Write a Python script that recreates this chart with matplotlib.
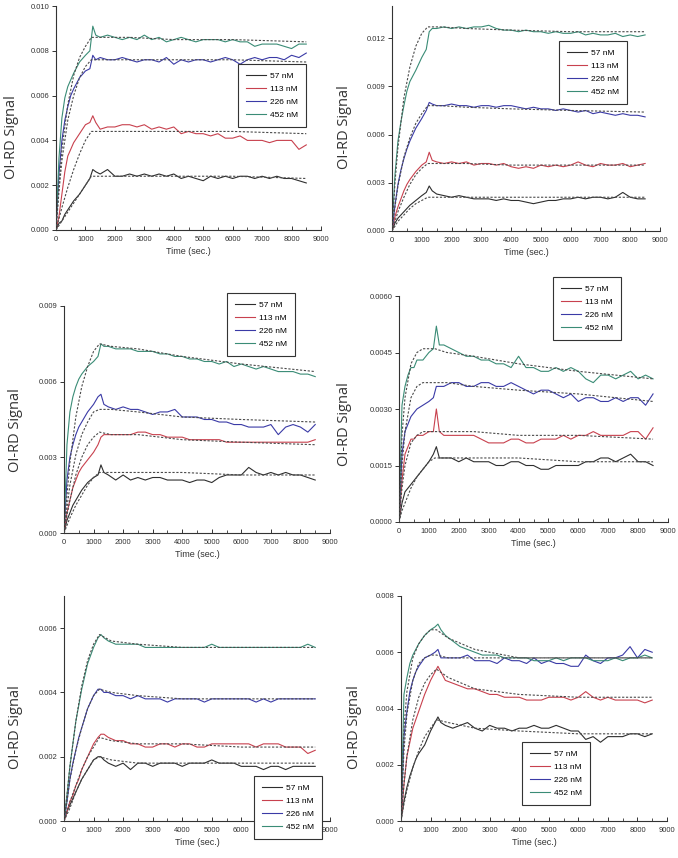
"""OI-RD binding curves, six panels, four concentrations each, with dotted fits."""
import matplotlib
matplotlib.use("Agg")
import matplotlib.pyplot as plt
from matplotlib.ticker import FixedLocator, FormatStrFormatter, MultipleLocator

LABELS = ["57 nM", "113 nM", "226 nM", "452 nM"]
COLORS = ["#2e2e2e", "#c8414e", "#3a3aa6", "#3a8c76"]
FIT_COLOR = "#4a4a4a"

# time axis (s) for the measured traces and for the fitted curves
T_DATA = [0, 100, 200, 300, 400, 500, 600, 800, 1000, 1150, 1250, 1350, 1500,
          1750, 2000, 2250, 2500, 2750, 3000, 3250, 3500, 3750, 4000, 4250,
          4500, 4750, 5000, 5250, 5500, 5750, 6000, 6250, 6500, 6750, 7000,
          7250, 7500, 7750, 8000, 8250, 8500]
T_FIT = [0, 100, 200, 400, 600, 800, 1000, 1200, 1600, 2500, 4000, 6000, 8500]

# all signal values below are in units of 1e-3
# panel 1 (top left)
P1_57 = [0, 0.3, 0.4, 0.7, 0.9, 1.1, 1.3, 1.6, 2.0, 2.3, 2.7, 2.6, 2.5, 2.7, 2.4, 2.4, 2.5, 2.4, 2.5, 2.4, 2.5,
         2.4, 2.5, 2.3, 2.4, 2.3, 2.2, 2.4, 2.3, 2.4, 2.3, 2.4, 2.4, 2.3, 2.4, 2.3, 2.4, 2.3, 2.3, 2.2, 2.1]
P1_113 = [0, 0.6, 1.6, 2.6, 3.3, 3.6, 3.9, 4.3, 4.7, 4.8, 5.1, 4.8, 4.5, 4.6, 4.6, 4.7, 4.7, 4.6, 4.7, 4.5, 4.6,
          4.5, 4.6, 4.3, 4.4, 4.3, 4.3, 4.2, 4.3, 4.1, 4.1, 4.2, 4.0, 4.0, 4.0, 3.9, 4.0, 4.0, 4.0, 3.6, 3.8]
P1_226 = [0, 2.5, 4.0, 4.9, 5.5, 6.0, 6.3, 6.8, 7.1, 7.2, 7.8, 7.6, 7.7, 7.6, 7.6, 7.7, 7.6, 7.5, 7.6, 7.6, 7.5,
          7.7, 7.4, 7.6, 7.5, 7.6, 7.6, 7.5, 7.6, 7.7, 7.6, 7.4, 7.6, 7.7, 7.6, 7.7, 7.7, 7.6, 7.8, 7.7, 7.9]
P1_452 = [0, 3.2, 5.0, 5.9, 6.4, 6.7, 7.0, 7.5, 7.8, 8.0, 9.1, 8.7, 8.6, 8.7, 8.6, 8.5, 8.6, 8.5, 8.7, 8.5, 8.6,
          8.4, 8.5, 8.6, 8.5, 8.4, 8.5, 8.5, 8.5, 8.4, 8.5, 8.4, 8.4, 8.2, 8.3, 8.3, 8.3, 8.2, 8.1, 8.3, 8.3]
P1_FIT = [
    [0, 0.2, 0.4, 0.8, 1.2, 1.6, 2.0, 2.4, 2.4, 2.4, 2.4, 2.4, 2.3],
    [0, 0.5, 1.0, 1.9, 2.7, 3.4, 4.0, 4.4, 4.4, 4.4, 4.4, 4.4, 4.3],
    [0, 1.7, 3.1, 4.9, 6.0, 6.8, 7.3, 7.6, 7.6, 7.6, 7.6, 7.6, 7.5],
    [0, 2.0, 3.6, 5.6, 6.9, 7.7, 8.2, 8.6, 8.6, 8.6, 8.5, 8.5, 8.4],
]

# panel 2 (top right)
P2_57 = [0, 0.5, 0.8, 1.0, 1.2, 1.4, 1.6, 1.9, 2.2, 2.4, 2.8, 2.5, 2.3, 2.2, 2.1, 2.2, 2.1, 2.0, 2.0, 2.0, 1.9,
         2.0, 1.9, 1.9, 1.8, 1.7, 1.8, 1.9, 1.9, 2.0, 2.0, 2.1, 2.0, 2.1, 2.1, 2.0, 2.1, 2.4, 2.1, 2.0, 2.0]
P2_113 = [0, 0.9, 1.5, 2.0, 2.5, 2.9, 3.2, 3.7, 4.1, 4.3, 4.9, 4.4, 4.3, 4.2, 4.3, 4.2, 4.3, 4.1, 4.2, 4.2, 4.1,
          4.2, 4.0, 3.9, 4.0, 3.9, 4.1, 4.0, 4.1, 4.0, 4.1, 4.3, 4.1, 4.0, 4.2, 4.1, 4.1, 4.2, 4.0, 4.1, 4.2]
P2_226 = [0, 1.6, 2.9, 3.8, 4.5, 5.1, 5.6, 6.4, 7.0, 7.5, 8.0, 7.9, 7.8, 7.8, 7.9, 7.8, 7.8, 7.7, 7.8, 7.8, 7.7,
          7.8, 7.8, 7.7, 7.6, 7.7, 7.6, 7.6, 7.5, 7.6, 7.5, 7.4, 7.5, 7.3, 7.4, 7.3, 7.2, 7.3, 7.2, 7.2, 7.1]
P2_452 = [0, 3.5, 5.6, 6.8, 7.8, 8.7, 9.3, 10.0, 10.8, 11.3, 12.4, 12.6, 12.6, 12.7, 12.6, 12.7, 12.6, 12.7,
          12.7, 12.8, 12.6, 12.5, 12.5, 12.4, 12.5, 12.4, 12.4, 12.3, 12.4, 12.3, 12.3, 12.4, 12.2, 12.3, 12.2,
          12.2, 12.3, 12.1, 12.2, 12.1, 12.2]
P2_FIT = [
    [0, 0.3, 0.6, 1.0, 1.4, 1.7, 1.9, 2.1, 2.1, 2.1, 2.1, 2.1, 2.1],
    [0, 0.6, 1.2, 2.1, 2.9, 3.5, 3.9, 4.2, 4.2, 4.2, 4.1, 4.1, 4.1],
    [0, 1.5, 2.8, 4.6, 5.8, 6.7, 7.3, 7.8, 7.8, 7.7, 7.6, 7.5, 7.4],
    [0, 3.0, 5.2, 8.3, 10.2, 11.5, 12.3, 12.7, 12.7, 12.6, 12.5, 12.4, 12.4],
]

# panel 3 (middle left)
P3_57 = [0, 0.5, 0.8, 1.1, 1.3, 1.5, 1.7, 2.0, 2.2, 2.3, 2.7, 2.4, 2.3, 2.1, 2.3, 2.1, 2.2, 2.1, 2.2, 2.2, 2.1,
         2.1, 2.1, 2.0, 2.1, 2.1, 2.0, 2.2, 2.3, 2.3, 2.3, 2.6, 2.4, 2.3, 2.4, 2.3, 2.4, 2.3, 2.3, 2.2, 2.1]
P3_113 = [0, 0.8, 1.3, 1.8, 2.1, 2.4, 2.6, 2.9, 3.2, 3.5, 3.8, 3.9, 3.9, 3.9, 3.9, 3.9, 4.0, 4.0, 3.9, 3.9, 3.8,
          3.8, 3.8, 3.7, 3.7, 3.7, 3.7, 3.7, 3.6, 3.6, 3.6, 3.6, 3.6, 3.6, 3.6, 3.6, 3.6, 3.6, 3.6, 3.6, 3.7]
P3_226 = [0, 2.1, 3.0, 3.5, 3.9, 4.2, 4.4, 4.8, 5.1, 5.4, 5.5, 5.1, 5.0, 4.9, 5.0, 4.9, 4.9, 4.8, 4.7, 4.8, 4.8,
          4.9, 4.6, 4.6, 4.6, 4.5, 4.5, 4.4, 4.4, 4.3, 4.3, 4.2, 4.2, 4.2, 4.3, 3.9, 4.2, 4.3, 4.2, 4.0, 4.3]
P3_452 = [0, 3.5, 4.8, 5.4, 5.8, 6.1, 6.3, 6.6, 6.8, 7.0, 7.5, 7.4, 7.4, 7.3, 7.3, 7.3, 7.2, 7.2, 7.2, 7.1, 7.1,
          7.0, 7.0, 6.9, 6.9, 6.8, 6.8, 6.7, 6.8, 6.6, 6.7, 6.6, 6.5, 6.6, 6.5, 6.4, 6.4, 6.4, 6.3, 6.3, 6.2]
P3_FIT = [
    [0, 0.3, 0.6, 1.1, 1.5, 1.9, 2.2, 2.4, 2.4, 2.4, 2.4, 2.3, 2.3],
    [0, 0.7, 1.3, 2.3, 3.0, 3.5, 3.8, 4.0, 3.9, 3.9, 3.7, 3.6, 3.5],
    [0, 1.0, 1.9, 3.1, 3.9, 4.4, 4.8, 4.9, 4.9, 4.8, 4.6, 4.5, 4.4],
    [0, 1.5, 2.8, 4.6, 5.8, 6.6, 7.2, 7.5, 7.4, 7.3, 7.0, 6.7, 6.4],
]

# panel 4 (middle right)
P4_57 = [0, 0.5, 0.8, 0.9, 1.0, 1.1, 1.2, 1.4, 1.6, 1.8, 2.0, 1.7, 1.7, 1.7, 1.6, 1.7, 1.6, 1.6, 1.6, 1.5, 1.5,
         1.6, 1.6, 1.5, 1.5, 1.4, 1.4, 1.5, 1.5, 1.5, 1.5, 1.6, 1.6, 1.7, 1.7, 1.6, 1.7, 1.8, 1.6, 1.6, 1.5]
P4_113 = [0, 1.1, 1.8, 2.0, 2.2, 2.2, 2.3, 2.3, 2.4, 2.4, 3.0, 2.4, 2.3, 2.3, 2.3, 2.3, 2.3, 2.2, 2.1, 2.1, 2.1,
          2.2, 2.2, 2.1, 2.1, 2.2, 2.2, 2.2, 2.3, 2.2, 2.3, 2.3, 2.4, 2.3, 2.3, 2.3, 2.3, 2.4, 2.4, 2.2, 2.5]
P4_226 = [0, 1.8, 2.4, 2.6, 2.8, 2.9, 3.0, 3.1, 3.2, 3.3, 3.6, 3.6, 3.6, 3.7, 3.7, 3.6, 3.6, 3.7, 3.7, 3.6, 3.6,
          3.7, 3.6, 3.5, 3.4, 3.5, 3.5, 3.4, 3.3, 3.4, 3.2, 3.3, 3.3, 3.2, 3.2, 3.3, 3.2, 3.3, 3.3, 3.1, 3.4]
P4_452 = [0, 3.1, 3.6, 3.9, 4.1, 4.1, 4.3, 4.3, 4.5, 4.6, 5.2, 4.7, 4.7, 4.6, 4.5, 4.4, 4.4, 4.3, 4.3, 4.2, 4.2,
          4.1, 4.4, 4.1, 4.1, 4.0, 4.0, 4.1, 4.0, 4.1, 4.0, 3.8, 3.7, 3.9, 3.9, 3.8, 3.9, 4.0, 3.8, 3.9, 3.8]
P4_FIT = [
    [0, 0.3, 0.5, 0.9, 1.2, 1.4, 1.6, 1.7, 1.7, 1.7, 1.7, 1.6, 1.6],
    [0, 0.9, 1.5, 2.1, 2.3, 2.4, 2.4, 2.4, 2.4, 2.4, 2.3, 2.3, 2.2],
    [0, 1.5, 2.4, 3.3, 3.6, 3.7, 3.7, 3.7, 3.7, 3.6, 3.5, 3.4, 3.2],
    [0, 2.3, 3.3, 4.2, 4.5, 4.6, 4.6, 4.6, 4.5, 4.4, 4.2, 4.0, 3.8],
]

# panel 5 (bottom left)
P5_57 = [0, 0.3, 0.5, 0.7, 0.9, 1.1, 1.3, 1.6, 1.9, 2.0, 2.0, 1.9, 1.8, 1.7, 1.8, 1.6, 1.8, 1.8, 1.7, 1.8, 1.8,
         1.8, 1.7, 1.8, 1.8, 1.8, 1.9, 1.8, 1.8, 1.8, 1.7, 1.7, 1.7, 1.6, 1.7, 1.7, 1.6, 1.7, 1.7, 1.7, 1.7]
P5_113 = [0, 0.3, 0.6, 0.8, 1.1, 1.3, 1.6, 2.0, 2.4, 2.6, 2.7, 2.7, 2.6, 2.5, 2.5, 2.4, 2.4, 2.3, 2.3, 2.4, 2.4,
          2.3, 2.4, 2.4, 2.3, 2.3, 2.4, 2.4, 2.4, 2.4, 2.4, 2.4, 2.3, 2.4, 2.4, 2.4, 2.3, 2.3, 2.3, 2.1, 2.2]
P5_226 = [0, 0.6, 1.3, 1.8, 2.2, 2.6, 2.9, 3.5, 3.9, 4.1, 4.1, 4.0, 4.0, 3.9, 3.9, 3.8, 3.9, 3.8, 3.8, 3.8, 3.7,
          3.8, 3.8, 3.8, 3.8, 3.7, 3.8, 3.8, 3.8, 3.8, 3.8, 3.8, 3.7, 3.8, 3.7, 3.8, 3.8, 3.8, 3.8, 3.8, 3.8]
P5_452 = [0, 0.8, 1.7, 2.4, 3.1, 3.6, 4.1, 4.9, 5.4, 5.7, 5.8, 5.7, 5.6, 5.5, 5.5, 5.5, 5.5, 5.4, 5.4, 5.4, 5.4,
          5.4, 5.4, 5.4, 5.4, 5.4, 5.5, 5.4, 5.4, 5.4, 5.4, 5.4, 5.4, 5.4, 5.4, 5.4, 5.4, 5.4, 5.4, 5.5, 5.4]
P5_FIT = [
    [0, 0.2, 0.4, 0.9, 1.3, 1.6, 1.9, 2.0, 1.9, 1.8, 1.8, 1.8, 1.8],
    [0, 0.3, 0.6, 1.1, 1.6, 2.0, 2.3, 2.6, 2.5, 2.4, 2.4, 2.3, 2.3],
    [0, 0.6, 1.3, 2.2, 2.9, 3.5, 3.9, 4.1, 4.0, 3.9, 3.8, 3.8, 3.8],
    [0, 0.8, 1.7, 3.1, 4.2, 5.0, 5.5, 5.8, 5.6, 5.5, 5.4, 5.4, 5.4],
]

# panel 6 (bottom right)
P6_57 = [0, 0.7, 1.2, 1.6, 1.9, 2.2, 2.4, 2.7, 3.2, 3.5, 3.7, 3.5, 3.4, 3.3, 3.4, 3.5, 3.3, 3.2, 3.4, 3.3, 3.3,
         3.2, 3.3, 3.3, 3.4, 3.3, 3.3, 3.4, 3.3, 3.2, 3.2, 2.9, 3.0, 2.8, 3.0, 3.0, 3.0, 3.1, 3.1, 3.0, 3.1]
P6_113 = [0, 1.3, 2.3, 2.8, 3.3, 3.6, 3.9, 4.5, 5.0, 5.3, 5.5, 5.3, 5.0, 4.9, 4.8, 4.7, 4.7, 4.6, 4.5, 4.5, 4.4,
          4.4, 4.4, 4.3, 4.3, 4.3, 4.4, 4.4, 4.4, 4.3, 4.4, 4.6, 4.4, 4.3, 4.4, 4.3, 4.3, 4.3, 4.3, 4.2, 4.3]
P6_226 = [0, 3.0, 3.9, 4.6, 5.0, 5.3, 5.5, 5.8, 5.9, 6.0, 6.1, 5.8, 5.8, 5.8, 5.8, 5.9, 5.7, 5.7, 5.7, 5.6, 5.8,
          5.7, 5.7, 5.6, 5.8, 5.6, 5.7, 5.6, 5.6, 5.5, 5.5, 5.9, 5.7, 5.6, 5.8, 5.8, 5.9, 6.2, 5.8, 6.1, 6.0]
P6_452 = [0, 4.5, 5.1, 5.6, 5.9, 6.1, 6.3, 6.6, 6.8, 6.9, 7.0, 6.8, 6.6, 6.4, 6.2, 6.1, 6.0, 5.9, 5.9, 5.9, 5.8,
          5.8, 5.8, 5.8, 5.7, 5.7, 5.7, 5.8, 5.7, 5.8, 5.8, 5.8, 5.7, 5.7, 5.7, 5.8, 5.7, 5.8, 5.8, 5.9, 5.8]
P6_FIT = [
    [0, 0.6, 1.1, 1.9, 2.5, 3.0, 3.3, 3.6, 3.5, 3.3, 3.2, 3.1, 3.1],
    [0, 1.3, 2.3, 3.6, 4.4, 4.9, 5.2, 5.4, 5.1, 4.7, 4.5, 4.4, 4.4],
    [0, 2.5, 3.8, 5.0, 5.6, 5.8, 5.9, 5.9, 5.8, 5.8, 5.8, 5.8, 5.8],
    [0, 3.3, 4.6, 5.8, 6.3, 6.6, 6.8, 6.8, 6.5, 6.1, 5.8, 5.8, 5.8],
]

# y-axis setup per panel: top of axis, tick step, tick label format
Y_TOP = [0.010, 0.014, 0.009, 0.006, 0.007, 0.008]
Y_STEP = [0.002, 0.003, 0.003, 0.0015, 0.002, 0.002]
Y_FMT = ["%.3f", "%.3f", "%.3f", "%.4f", "%.3f", "%.3f"]

PANELS = [
    ([P1_57, P1_113, P1_226, P1_452], P1_FIT),
    ([P2_57, P2_113, P2_226, P2_452], P2_FIT),
    ([P3_57, P3_113, P3_226, P3_452], P3_FIT),
    ([P4_57, P4_113, P4_226, P4_452], P4_FIT),
    ([P5_57, P5_113, P5_226, P5_452], P5_FIT),
    ([P6_57, P6_113, P6_226, P6_452], P6_FIT),
]

W, H = 678, 858
# axes boxes in pixels: left, top, right, bottom
BOXES = [(56, 6, 321, 230), (392, 6, 660, 231), (64, 306, 330, 533),
         (399, 296, 668, 522), (64, 596, 330, 821), (401, 596, 667, 821)]
# legend top-left corners and y-label centres in pixels
LEG_POS = [(238, 64), (559, 41), (227, 293), (553, 277), (254, 776), (522, 742)]
YLAB_POS = [(12, 137), (344, 127), (16, 430), (344, 424), (16, 727), (355, 727)]

plt.rcParams["font.family"] = ["Liberation Sans", "DejaVu Sans"]
fig = plt.figure(figsize=(W / 100, H / 100), dpi=100)

for k, (series, fits) in enumerate(PANELS):
    l, t, r, b = BOXES[k]
    ax = fig.add_axes([l / W, 1 - b / H, (r - l) / W, (b - t) / H])
    for vals, col, lab in zip(series, COLORS, LABELS):
        ax.plot(T_DATA, [v * 1e-3 for v in vals], color=col, lw=0.8, label=lab)
    for vals in fits:
        ax.plot(T_FIT, [v * 1e-3 for v in vals], color=FIT_COLOR, lw=0.8,
                ls=(0, (2, 1.5)), zorder=3)

    ax.set_xlim(0, 9000)
    ax.set_ylim(0, Y_TOP[k])
    ax.xaxis.set_major_locator(MultipleLocator(1000))
    ax.xaxis.set_minor_locator(MultipleLocator(500))
    if k == 4:
        # bottom-left legend sits over the 7000 and 8000 labels
        ax.xaxis.set_major_formatter(
            lambda v, pos: "" if 6500 < v < 8500 else f"{v:.0f}")
    n_ticks = int(round(Y_TOP[k] / Y_STEP[k])) + 1
    ax.yaxis.set_major_locator(FixedLocator([i * Y_STEP[k] for i in range(n_ticks)]))
    ax.yaxis.set_major_formatter(FormatStrFormatter(Y_FMT[k]))
    for s in ("top", "right"):
        ax.spines[s].set_visible(False)
    for s in ("left", "bottom"):
        ax.spines[s].set_color("#333333")
        ax.spines[s].set_linewidth(0.8)
    ax.tick_params(axis="x", which="major", direction="in", length=3, width=0.7,
                   labelsize=5.5, pad=4, colors="#333333")
    ax.tick_params(axis="x", which="minor", direction="in", length=2, width=0.6,
                   colors="#333333")
    ax.tick_params(axis="y", direction="out", length=3, width=0.7, labelsize=5.5,
                   pad=1.5, colors="#333333")
    ax.set_xlabel("Time (sec.)", fontsize=6.5, color="#333333", labelpad=3)

    lx, ly = LEG_POS[k]
    leg = ax.legend(loc="upper left", bbox_to_anchor=(lx / W, 1 - ly / H),
                    bbox_transform=fig.transFigure, fontsize=6, frameon=True,
                    fancybox=False, framealpha=1, edgecolor="#333333",
                    borderaxespad=0, borderpad=1.0, labelspacing=0.6,
                    handlelength=2.4, handletextpad=0.4)
    leg.get_frame().set_linewidth(0.8)
    leg.set_zorder(10)

    yx, yy = YLAB_POS[k]
    fig.text(yx / W, 1 - yy / H, "OI-RD Signal", rotation=90, ha="center",
             va="center", fontsize=10.5, color="#333333",
             family=["Open Sans", "DejaVu Sans"])

fig.savefig("out.png", dpi=100)
